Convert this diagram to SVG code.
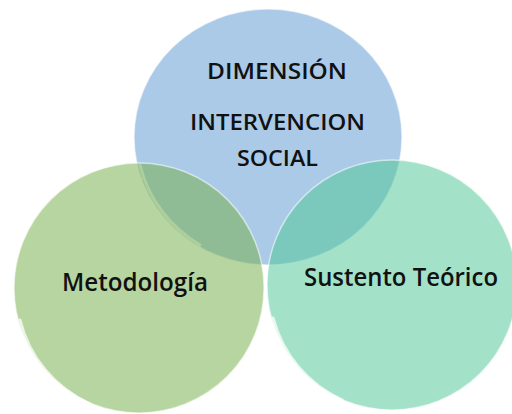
<svg xmlns="http://www.w3.org/2000/svg" width="512" height="414" viewBox="0 0 512 414">
<defs>
<style>
.lbl{font-family:"Open Sans","Lato","Liberation Sans",sans-serif;font-weight:600;fill:#111;text-anchor:middle}
.rim{fill:none;stroke:#ffffff;stroke-opacity:0.55;stroke-width:1.5}
.gloss{fill:none;stroke:#ffffff;stroke-opacity:0.75;stroke-width:3;stroke-linecap:round}
</style>
</defs>
<rect width="512" height="414" fill="#ffffff"/>
<g id="node-dimension">
<ellipse cx="268" cy="137" rx="134" ry="128" fill="#aacae7"/>
<ellipse cx="268" cy="137" rx="134" ry="128" class="rim" stroke-opacity="0.7"/>
<path class="gloss" d="M 140 165 A 134 128 0 0 0 200 245" stroke-opacity="0.4"/>
</g>
<g id="node-metodologia">
<circle cx="139" cy="288" r="125" fill="rgb(119,176,76)" fill-opacity="0.53"/>
<circle cx="139" cy="288" r="125" class="rim"/>
<path class="gloss" d="M 20 320 A 125 125 0 0 0 90 404"/>
</g>
<g id="node-sustento">
<circle cx="392" cy="285" r="125" fill="rgb(81,200,151)" fill-opacity="0.53"/>
<circle cx="392" cy="285" r="125" class="rim"/>
<path class="gloss" d="M 273 318 A 125 125 0 0 0 342 400"/>
</g>
<g id="labels">
<text class="lbl" x="277" y="79" font-size="22" textLength="140" lengthAdjust="spacingAndGlyphs">DIMENSIÓN</text>
<text class="lbl" x="277.5" y="130" font-size="22" textLength="175" lengthAdjust="spacingAndGlyphs">INTERVENCION</text>
<text class="lbl" x="277.5" y="166" font-size="22" textLength="81" lengthAdjust="spacingAndGlyphs">SOCIAL</text>
<text class="lbl" x="135" y="291" font-size="25" textLength="146" lengthAdjust="spacingAndGlyphs">Metodología</text>
<text class="lbl" x="401" y="286" font-size="25" textLength="194" lengthAdjust="spacingAndGlyphs">Sustento Teórico</text>
</g>
<g id="connectors"/>
</svg>
